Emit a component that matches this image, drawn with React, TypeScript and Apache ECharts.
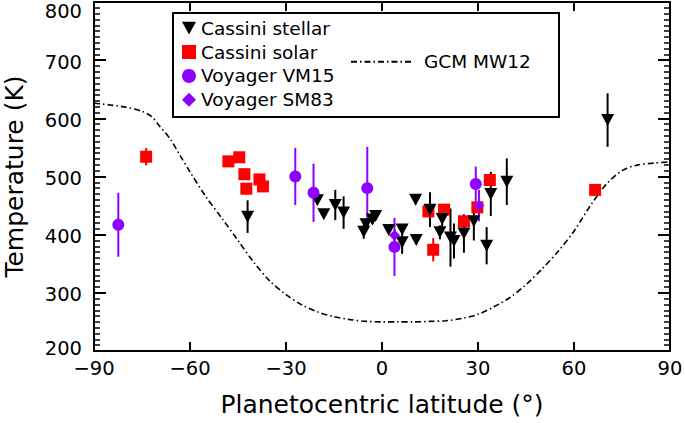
import React, { useEffect, useRef } from "react";
import * as echarts from "echarts";

// Cassini stellar occultations: latitude, temperature, error
const stellarLat = [-42.0, -20.2, -18.2, -14.6, -12.0, -5.7, -5.0, -3.0, -2.0, 2.1, 6.3, 6.3, 10.5, 10.7, 15.0, 18.8, 18.1, 21.4, 22.5, 25.6, 28.7, 32.7, 34.0, 39.0, 70.5];
const stellarT = [431, 459, 435, 451, 438, 405, 418, 426, 432, 408, 409, 387, 460, 391, 443, 427, 404, 395, 389, 402, 423, 381, 470, 491, 597];
const stellarErr = [28, 6, 6, 26, 28, 12, 8, 8, 6, 6, 8, 20, 8, 6, 30, 24, 12, 50, 30, 33, 33, 32, 38, 40, 46];

// Cassini solar occultations
const solarLat = [-73.7, -48.0, -44.6, -43.0, -42.4, -38.3, -37.2, 14.5, 16.0, 19.4, 25.6, 29.8, 33.7, 66.6];
const solarT = [534, 526, 533, 504, 479, 495, 483, 440, 374, 443, 423, 447, 494, 477];
const solarErr = [15, 8, 8, 8, 10, 8, 8, 8, 20, 8, 8, 8, 8, 5];

// Voyager VM15
const vmLat = [-82.4, -27.1, -21.4, -4.6, 3.9, 29.3];
const vmT = [417, 500, 472, 480, 379, 487];
const vmErr = [55, 49, 50, 71, 50, 30];

// Voyager SM83
const smLat = [3.9, 30.3];
const smT = [399, 450];
const smErr = [10, 27];

// GCM MW12 model curve
const gcmLat = [-90, -85, -80, -75, -72, -70, -66, -63, -60, -55, -50, -45, -40, -35, -30, -25, -20, -15, -10, -5, 0, 5, 10, 15, 20, 25, 30, 35, 40, 45, 50, 55, 60, 65, 70, 75, 80, 85, 90];
const gcmT = [626, 623, 619, 612, 603, 590, 563, 535, 508, 465, 428, 390, 352, 320, 297, 279, 267, 259, 254, 251, 250, 250, 250, 251, 252, 256, 263, 276, 292, 314, 341, 371, 406, 449, 486, 510, 520, 523, 525];

const Y_MIN = 200;
const Y_MAX = 800;
const Y_STEP = 100;
const X_MIN = -90;
const X_MAX = 90;
const X_STEP = 30;

const FONT = "'DejaVu Sans', sans-serif";
const PURPLE = "#8f00ff";
const RED = "#ff0000";
const TRI = "path://M0,0L12,0L6,11Z";

function pts(lat: number[], t: number[]) {
  return lat.map((x, i) => [x, t[i]]);
}
function bars(lat: number[], t: number[], e: number[]) {
  return lat.map((x, i) => [x, t[i] - e[i], t[i] + e[i]]);
}
function errSeries(name: string, data: number[][], color: string) {
  return {
    type: "custom",
    name,
    data,
    silent: true,
    z: 2,
    renderItem: (_p: any, api: any) => {
      const a = api.coord([api.value(0), api.value(1)]);
      const b = api.coord([api.value(0), api.value(2)]);
      return {
        type: "line",
        shape: { x1: a[0], y1: a[1], x2: b[0], y2: b[1] },
        style: { stroke: color, lineWidth: 2 },
      };
    },
  };
}

export default function App() {
  const ref = useRef<HTMLDivElement>(null);
  useEffect(() => {
    if (!ref.current) return;
    const chart = echarts.init(ref.current, null, { renderer: "svg" });
    const axisLine = { show: true, onZero: false, lineStyle: { color: "#000", width: 2 } };
    const legendText = { fontSize: 18.5, fontFamily: FONT, color: "#000" };
    const tickFont = { fontSize: 19.5, fontFamily: FONT, color: "#000" };
    chart.setOption({
      animation: false,
      backgroundColor: "#fff",
      grid: { left: 94, right: 15, top: 2, bottom: 72, containLabel: false, outerBoundsMode: "none" },
      legend: [
        {
          data: ["Cassini stellar", "Cassini solar", "Voyager VM15", "Voyager SM83"],
          orient: "vertical",
          left: 182,
          top: 18.6,
          padding: 0,
          itemWidth: 14,
          itemHeight: 14,
          itemGap: 4.9,
          selectedMode: false,
          textStyle: legendText,
        },
        {
          data: ["GCM MW12"],
          left: 350,
          top: 52.3,
          padding: 0,
          itemWidth: 63,
          itemHeight: 14,
          selectedMode: false,
          itemStyle: { color: "transparent", borderWidth: 0, opacity: 0 },
          textStyle: { ...legendText, padding: [0, 0, 0, 5] },
        },
      ],
      graphic: [
        {
          type: "rect",
          shape: { x: 173, y: 13, width: 386, height: 104 },
          style: { fill: "none", stroke: "#000", lineWidth: 2 },
          z: 10,
        },
        {
          type: "text",
          x: 82,
          y: 11,
          style: {
            text: String(Y_MAX),
            ...tickFont,
            fill: "#000",
            align: "right",
            verticalAlign: "middle",
          },
        },
      ],
      xAxis: [
        {
          type: "value",
          min: X_MIN,
          max: X_MAX,
          interval: X_STEP,
          name: "Planetocentric latitude (°)",
          nameLocation: "middle",
          nameGap: 40,
          nameTextStyle: { fontSize: 25, fontFamily: FONT, color: "#000", lineHeight: 26 },
          axisLine,
          axisTick: { inside: true, length: 9, lineStyle: { color: "#000", width: 2 } },
          axisLabel: {
            ...tickFont,
            margin: 7,
            lineHeight: 20,
            formatter: (v: number) => (v < 0 ? "\u2212" + Math.abs(v) : String(v)),
          },
          splitLine: { show: false },
        },
        {
          type: "value",
          position: "top",
          min: X_MIN,
          max: X_MAX,
          interval: X_STEP,
          axisLine,
          axisTick: { inside: true, length: 9, lineStyle: { color: "#000", width: 2 } },
          axisLabel: { show: false },
          splitLine: { show: false },
        },
      ],
      yAxis: [
        {
          type: "value",
          min: Y_MIN,
          max: Y_MAX,
          interval: Y_STEP,
          name: "Temperature (K)",
          nameLocation: "middle",
          nameGap: 67,
          nameTextStyle: { fontSize: 25, fontFamily: FONT, color: "#000", lineHeight: 26 },
          axisLine,
          axisTick: { inside: true, length: 12, lineStyle: { color: "#000", width: 2 } },
          minorTick: { show: true, splitNumber: 10, length: 6, lineStyle: { color: "#000", width: 1.5 } },
          axisLabel: {
            ...tickFont,
            margin: 12,
            showMaxLabel: false,
            formatter: (v: number) => (v === Y_MIN ? `{lo|${v}}` : `{n|${v}}`),
            rich: {
              n: { ...tickFont, lineHeight: 18, padding: [4, 0, 0, 0] },
              lo: { ...tickFont, lineHeight: 18, padding: [0, 0, 6, 0] },
            },
          },
          splitLine: { show: false },
        },
        {
          type: "value",
          position: "right",
          min: Y_MIN,
          max: Y_MAX,
          interval: Y_STEP,
          axisLine,
          axisTick: { inside: true, length: 12, lineStyle: { color: "#000", width: 2 } },
          minorTick: { show: true, splitNumber: 10, length: 6, lineStyle: { color: "#000", width: 1.5 } },
          axisLabel: { show: false },
          splitLine: { show: false },
        },
      ],
      series: [
        {
          type: "line",
          name: "GCM MW12",
          data: pts(gcmLat, gcmT),
          smooth: 0.3,
          showSymbol: false,
          symbol: "none",
          lineStyle: { color: "#000", width: 1.6, type: [6, 3, 1.5, 3] },
          itemStyle: { color: "#000" },
          z: 1,
        },
        errSeries("solarErr", bars(solarLat, solarT, solarErr), RED),
        {
          type: "scatter",
          name: "Cassini solar",
          data: pts(solarLat, solarT),
          symbol: "rect",
          symbolSize: 12,
          itemStyle: { color: RED, opacity: 1 },
          z: 3,
        },
        errSeries("stellarErr", bars(stellarLat, stellarT, stellarErr), "#000"),
        {
          type: "scatter",
          name: "Cassini stellar",
          data: pts(stellarLat, stellarT),
          symbol: TRI,
          symbolSize: [13, 12],
          itemStyle: { color: "#000", opacity: 1 },
          z: 4,
        },
        errSeries("vmErr", bars(vmLat, vmT, vmErr), PURPLE),
        {
          type: "scatter",
          name: "Voyager VM15",
          data: pts(vmLat, vmT),
          symbol: "circle",
          symbolSize: 12,
          itemStyle: { color: PURPLE, opacity: 1 },
          z: 5,
        },
        errSeries("smErr", bars(smLat, smT, smErr), PURPLE),
        {
          type: "scatter",
          name: "Voyager SM83",
          data: pts(smLat, smT),
          symbol: "diamond",
          symbolSize: 11,
          itemStyle: { color: PURPLE, opacity: 1 },
          z: 5,
        },
      ],
    });
    return () => chart.dispose();
  }, []);
  return (
    <div
      ref={ref}
      style={{ position: "fixed", left: 0, top: 0, width: 685, height: 423, background: "#fff" }}
    />
  );
}
